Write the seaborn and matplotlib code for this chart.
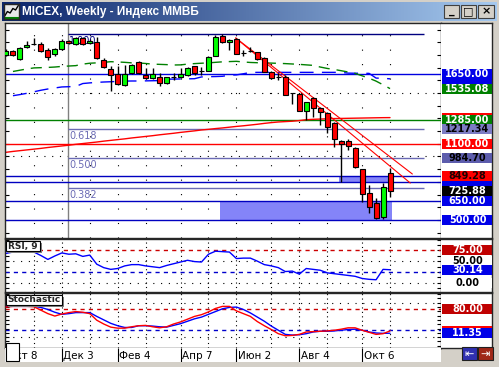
import numpy as np
import matplotlib
matplotlib.use("Agg")
import matplotlib.pyplot as plt
from matplotlib.patches import Rectangle
from matplotlib.colors import LinearSegmentedColormap
from matplotlib.ticker import MultipleLocator
import seaborn as sns

sns.set_style("white")
plt.rcParams["font.family"] = ["DejaVu Sans"]
plt.rcParams["axes.linewidth"] = 1.0

# --------------------------------------------------
# Data
# --------------------------------------------------

title = "MICEX, Weekly - Индекс ММВБ"

weeks = np.arange(56)

open_ = [1800, 1831, 1768, 1863, 1884, 1886, 1839, 1808, 1847, 1912,
         1884, 1931, 1897, 1905, 1760, 1687, 1648, 1563, 1660, 1742,
         1642, 1616, 1626, 1577, 1629, 1629, 1642, 1711, 1671, 1674,
         1794, 1947, 1900, 1926, 1815, 1834, 1821, 1774, 1668, 1626,
         1626, 1498, 1492, 1358, 1463, 1380, 1340, 1262, 1124, 1124,
         1065, 899, 710, 631, 521, 872]
close = [1831, 1800, 1855, 1879, 1884, 1831, 1784, 1847, 1910, 1892,
         1931, 1884, 1912, 1778, 1703, 1642, 1569, 1652, 1721, 1656,
         1616, 1648, 1577, 1624, 1629, 1648, 1700, 1660, 1671, 1786,
         1939, 1905, 1920, 1810, 1815, 1834, 1766, 1668, 1616, 1626,
         1485, 1498, 1358, 1427, 1380, 1348, 1235, 1135, 1098, 1085,
         920, 702, 600, 513, 762, 725.88]
high = [1847, 1839, 1863, 1910, 1936, 1902, 1855, 1855, 1926, 1918,
        1942, 1942, 1926, 1939, 1776, 1715, 1713, 1721, 1729, 1749,
        1697, 1700, 1658, 1630, 1658, 1700, 1705, 1717, 1705, 1792,
        1957, 1963, 1926, 1930, 1839, 1863, 1827, 1784, 1674, 1658,
        1642, 1504, 1500, 1433, 1469, 1390, 1347, 1272, 1130, 1135,
        1077, 905, 775, 671, 793, 907]
low = [1792, 1792, 1760, 1855, 1879, 1823, 1760, 1792, 1839, 1886,
       1879, 1879, 1886, 1772, 1697, 1516, 1563, 1555, 1654, 1650,
       1611, 1611, 1555, 1571, 1603, 1622, 1634, 1646, 1642, 1670,
       1792, 1894, 1839, 1804, 1792, 1827, 1760, 1662, 1611, 1603,
       1481, 1414, 1355, 1288, 1314, 1248, 1185, 1077, 801, 1051,
       913, 644, 555, 507, 505, 683]

ma_green = [np.nan, 1670, 1680, 1690, 1698, 1700, 1702, 1705, 1710, 1713,
            1716, 1728, 1735, 1738, 1742, 1747, 1745, 1742, 1738, 1737,
            1733, 1728, 1726, 1724, 1721, 1722, 1728, 1732, 1735, 1738,
            1742, 1746, 1748, 1750, 1745, 1741, 1739, 1737, 1736, 1734,
            1732, 1729, 1726, 1722, 1718, 1705, 1694, 1686, 1676, 1666,
            1655, 1636, 1617, 1594, 1565, 1535.08]
ma_blue = [np.nan, 1479, 1488, 1498, 1510, 1522, 1532, 1540, 1548, 1550,
           1552, 1575, 1580, 1584, 1587, 1589, 1592, 1594, 1595, 1595,
           1596, 1597, 1598, 1609, 1610, 1611, 1612, 1613, 1627, 1629,
           1630, 1632, 1641, 1643, 1652, 1662, 1663, 1663, 1663, 1663,
           1663, 1663, 1663, 1663, 1663, 1663, 1663, 1663, 1663, 1657,
           1656, 1656, 1655, 1618, 1616, 1611.97]
ma_red = [1033, 1040, 1046, 1052, 1058, 1064, 1071, 1077, 1083, 1089,
          1096, 1102, 1108, 1114, 1121, 1127, 1133, 1139, 1146, 1152,
          1158, 1164, 1171, 1177, 1183, 1190, 1196, 1202, 1209, 1214,
          1220, 1225, 1231, 1237, 1242, 1248, 1254, 1261, 1267, 1272,
          1275, 1278, 1283, 1290, 1293, 1295, 1297, 1299, 1300, 1301,
          1302, 1303, 1304, 1305, 1306, 1306.42]

rsi = [68, 71, 73, 72, 71, 63, 54, 62, 69, 66,
       67, 61, 64, 43, 35, 31, 33, 39, 42, 42,
       39, 37, 35, 40, 44, 48, 52, 49, 48, 66,
       73, 72, 71, 56, 57, 57, 50, 42, 39, 35,
       26, 27, 20, 33, 31, 29, 23, 21, 19, 17,
       15, 10, 8, 7, 31, 30.14]
stoch_k = [87, 89, 89, 89, 88, 78, 68, 61, 67, 71,
           74, 72, 68, 49, 38, 29, 26, 26, 30, 33,
           34, 30, 27, 30, 38, 44, 52, 60, 65, 73,
           83, 89, 89, 76, 68, 60, 45, 33, 22, 10,
           4, 5, 8, 15, 16, 17, 18, 20, 23, 27,
           27, 20, 14, 8, 10, 18]
stoch_d = [89, 89, 89, 89, 89, 86, 80, 72, 66, 68,
           71, 71, 71, 60, 50, 40, 33, 28, 28, 33,
           33, 32, 30, 29, 34, 39, 46, 53, 58, 66,
           74, 82, 86, 87, 80, 70, 58, 46, 32, 20,
           8, 6, 7, 10, 15, 17, 17, 18, 20, 22,
           23, 20, 15, 12, 11, 11.35]

date_idx = [0, 8, 16, 25, 33, 42, 51]
date_labels = ["Окт 8", "Дек 3", "Фев 4", "Апр 7", "Июн 2", "Авг 4", "Окт 6"]
month_idx = [4, 8, 12, 16, 20, 25, 29, 33, 38, 42, 46, 51, 55]

level_prices = [1650, 1285, 1100, 849.28, 797.51, 650, 500]
level_colors = ["#0000E0", "#008000", "#FF0000", "#0000C0", "#0000C0", "#0000C0", "#0000C0"]

fib_labels = ["1.000", "0.618", "0.500", "0.382"]
fib_prices = [1965, 1217.34, 984.70, 752.0]
fib_colors = ["#000080", "#6A6AB4", "#6A6AB4", "#6A6AB4"]
fib_start = 8.9
fib_end = 59.9

zone_x0 = [30.7, 47.7]
zone_x1 = [55.3, 55.3]
zone_lo = [500, 797.51]
zone_hi = [650, 849.28]

trend_x = [[32.9, 58.2], [32.9, 57.9]]
trend_y = [[1934, 862], [1934, 791]]

# price tags on the right scale (some sit under others and are mostly hidden)
main_tags = [1611.97, 1650.00, 1306.42, 1535.08, 1285.00, 1217.34, 1100.00,
             984.70, 797.51, 849.28, 725.88, 650.00, 500.00]
main_tag_fc = ["#0000E8", "#0000E8", "#FF0000", "#008000", "#008000", "#7C7CC4", "#FF0000",
               "#5C5CAC", "#0000E8", "#FF0000", "#000000", "#0000E8", "#0000E8"]
main_tag_tc = ["white", "white", "white", "white", "white", "black", "white",
               "black", "white", "#200000", "white", "white", "white"]
main_tag_shown = [False, True, False, True, True, True, True,
                  True, False, True, True, True, True]

rsi_tags = [75.00, 50.00, 30.14, 0.00]
rsi_tag_fc = ["#C00000", "white", "#0000E8", "white"]
rsi_tag_tc = ["white", "black", "white", "black"]
rsi_tag_shown = [True, True, True, True]

stoch_tags = [80.00, 18.00, 11.35]
stoch_tag_fc = ["#C00000", "#FF0000", "#0000E8"]
stoch_tag_tc = ["white", "white", "white"]
stoch_tag_shown = [True, False, True]

# --------------------------------------------------
# Layout helpers (pixel boxes)
# --------------------------------------------------

W, H = 499, 367
GRAY = "#D4D0C8"


def box(x0, y0, x1, y1):
    return [x0 / W, 1 - y1 / H, (x1 - x0) / W, (y1 - y0) / H]


def fig_rect(x0, y0, x1, y1, **kw):
    fig.add_artist(Rectangle((x0 / W, 1 - y1 / H), (x1 - x0) / W, (y1 - y0) / H,
                             transform=fig.transFigure, **kw))


def tag_panel(rect, ylim, px_h):
    a = fig.add_axes(rect)
    a.set_xlim(0, 1)
    a.set_ylim(ylim)
    a.set_xticks([])
    a.set_yticks([])
    a.set_facecolor("white")
    a.spines["left"].set_visible(False)
    return a, 10 * (ylim[1] - ylim[0]) / px_h


def draw_tags(a, h, vals, fcs, tcs, shown):
    for k, (v, fc, tc, s) in enumerate(zip(vals, fcs, tcs, shown)):
        a.add_patch(Rectangle((0.02, v - h / 2), 0.98, h, fc=fc, ec="none", zorder=2 + 2 * k))
        if s:
            a.text(0.52, v, "%.2f" % v, ha="center", va="center", color=tc,
                   fontsize=7, fontweight="bold", zorder=3 + 2 * k, clip_on=True)


fig = plt.figure(figsize=(W / 100, H / 100), dpi=100)
fig.patch.set_facecolor(GRAY)

# --------------------------------------------------
# Title bar
# --------------------------------------------------

tb = fig.add_axes(box(2, 2, 497, 21))
tb.imshow(np.linspace(0, 1, 256).reshape(1, -1), aspect="auto", extent=[0, 1, 0, 1],
          cmap=LinearSegmentedColormap.from_list("tb", ["#0A246A", "#A6CAF0"]))
tb.set_axis_off()

icon = fig.add_axes(box(4, 4, 19, 19))
icon.set_facecolor("#E8E8E8")
icon_trace = [2, 5, 4, 7, 6, 9]
icon.plot(icon_trace, color="black", lw=1)
icon.axhline(1, color="#008000", lw=1.5)
icon.set_xticks([])
icon.set_yticks([])
icon.set_ylim(0, 10)

fig.text(22 / W, 1 - 12 / H, title, color="white", fontsize=8.5, fontweight="bold",
         family=["Liberation Sans", "DejaVu Sans"], va="center", ha="left")

for (x0, x1), glyph in zip([(444, 459), (461, 476), (478, 494)], ["_", "□", "×"]):
    fig_rect(x0, 5, x1, 18, fc=GRAY, ec="#404040", lw=0.8, zorder=5)
    fig.text((x0 + x1) / 2 / W, 1 - 11.5 / H, glyph, ha="center", va="center",
             fontsize=8, fontweight="bold", color="black", zorder=6)

# --------------------------------------------------
# Main price panel
# --------------------------------------------------

ax = fig.add_axes(box(5, 23, 441, 238))
ax.set_facecolor("white")
XLIM = (-0.14, 62.3)
MAIN_Y = (357.7, 2052)

for m in month_idx:
    ax.axvline(m, color="black", lw=0.8, ls=(0, (1, 12)), zorder=0.5)
for g in [1000, 1500]:
    ax.axhline(g, color="black", lw=0.8, ls=(0, (1, 6)), zorder=0.5)

for x0, x1, lo, hi in zip(zone_x0, zone_x1, zone_lo, zone_hi):
    ax.add_patch(Rectangle((x0, lo), x1 - x0, hi - lo, fc="#8484F8", ec="none", zorder=1))

ax.axvline(fib_start, color="#808080", lw=1, zorder=1.5)
for lbl, p, col in zip(fib_labels, fib_prices, fib_colors):
    ax.hlines(p, fib_start, fib_end, color=col, lw=1, zorder=1.5)
    ax.annotate(lbl, xy=(fib_start, p), xytext=(1, -2), textcoords="offset pixels",
                ha="left", va="top", fontsize=7, color=col, zorder=2)

for p, col in zip(level_prices, level_colors):
    ax.axhline(p, color=col, lw=1, zorder=1.6)

sns.lineplot(x=weeks, y=ma_red, ax=ax, color="#FF0000", lw=1, zorder=2)
sns.lineplot(x=weeks, y=ma_blue, ax=ax, color="#0000FF", lw=1, linestyle=(0, (10, 6)), zorder=2)
sns.lineplot(x=weeks, y=ma_green, ax=ax, color="#008000", lw=1, linestyle=(0, (8, 5)), zorder=2)

for tx, ty in zip(trend_x, trend_y):
    ax.plot(tx, ty, color="#FF0000", lw=0.8, zorder=3)

o = np.array(open_)
c = np.array(close)
colors = np.where(c > o, "#00FF00", np.where(c < o, "#FF0000", "black"))
ax.vlines(weeks, low, high, color="black", lw=1, zorder=4)
ax.bar(weeks, np.abs(c - o), bottom=np.minimum(o, c), width=0.72, color=colors,
       edgecolor="black", linewidth=0.8, zorder=5)

ax.set_xlim(XLIM)
ax.set_ylim(MAIN_Y)
ax.set_xticks([])
ax.yaxis.set_major_locator(MultipleLocator(100))
ax.tick_params(axis="y", direction="in", length=3, left=True, right=True,
               labelleft=False, labelright=False, color="black")
ax.set_xlabel("")
ax.set_ylabel("")

lab, h = tag_panel(box(441, 23, 492, 238), MAIN_Y, 215)
draw_tags(lab, h, main_tags, main_tag_fc, main_tag_tc, main_tag_shown)

# --------------------------------------------------
# RSI panel
# --------------------------------------------------

RSI_Y = (-21.3, 101.2)
rax = fig.add_axes(box(5, 239, 441, 292))
rax.set_facecolor("white")
for m in month_idx:
    rax.axvline(m, color="black", lw=0.8, ls=(0, (1, 3)), zorder=0.5)
for g in [50, 0]:
    rax.axhline(g, color="black", lw=0.8, ls=(0, (1, 6)), zorder=0.5)
rax.axhline(75, color="#CC0000", lw=1, ls=(0, (3, 3)), zorder=1)
rax.axhline(25, color="#0000CC", lw=1, ls=(0, (3, 3)), zorder=1)
sns.lineplot(x=weeks, y=rsi, ax=rax, color="#0000FF", lw=1, zorder=2)
rax.set_xlim(XLIM)
rax.set_ylim(RSI_Y)
rax.set_xticks([])
rax.yaxis.set_major_locator(MultipleLocator(12.5))
rax.tick_params(axis="y", direction="in", length=3, left=True, right=True,
                labelleft=False, labelright=False, color="black")
rax.set_xlabel("")
rax.set_ylabel("")

rlab, h = tag_panel(box(441, 239, 492, 292), RSI_Y, 53)
draw_tags(rlab, h, rsi_tags, rsi_tag_fc, rsi_tag_tc, rsi_tag_shown)

# --------------------------------------------------
# Stochastic panel
# --------------------------------------------------

STO_Y = (-31.4, 127.7)
sax = fig.add_axes(box(5, 293, 441, 348))
sax.set_facecolor("white")
for m in month_idx:
    sax.axvline(m, color="black", lw=0.8, ls=(0, (1, 3)), zorder=0.5)
for g in [100, 0]:
    sax.axhline(g, color="black", lw=0.8, ls=(0, (1, 6)), zorder=0.5)
sax.axhline(80, color="#CC0000", lw=1, ls=(0, (3, 3)), zorder=1)
sax.axhline(20, color="#0000CC", lw=1, ls=(0, (3, 3)), zorder=1)
sns.lineplot(x=weeks, y=stoch_d, ax=sax, color="#0000FF", lw=1, zorder=2)
sns.lineplot(x=weeks, y=stoch_k, ax=sax, color="#FF0000", lw=1, zorder=3)
sax.set_xlim(XLIM)
sax.set_ylim(STO_Y)
sax.set_xticks([])
sax.yaxis.set_major_locator(MultipleLocator(12.5))
sax.tick_params(axis="y", direction="in", length=3, left=True, right=True,
                labelleft=False, labelright=False, color="black")
sax.set_xlabel("")
sax.set_ylabel("")

slab, h = tag_panel(box(441, 293, 492, 348), STO_Y, 55)
draw_tags(slab, h, stoch_tags, stoch_tag_fc, stoch_tag_tc, stoch_tag_shown)

# panel captions with a shadow
for (x0, y0, x1, y1), txt in zip([(6, 241, 40, 251), (6, 295, 62, 305)], ["RSI, 9", "Stochastic"]):
    fig_rect(x0 + 2, y0 + 2, x1 + 2, y1 + 2, fc="#808080", ec="none", zorder=5)
    fig_rect(x0, y0, x1, y1, fc="white", ec="black", lw=0.8, zorder=6)
    fig.text((x0 + 1.5) / W, 1 - (y0 + y1) / 2 / H, txt, fontsize=6.5, fontweight="bold",
             ha="left", va="center", zorder=7)

# --------------------------------------------------
# Date axis
# --------------------------------------------------

dax = fig.add_axes(box(5, 348, 441, 362))
dax.set_facecolor("white")
dax.set_xlim(XLIM)
dax.set_ylim(0, 1)
dax.vlines(date_idx, 0, 1, color="black", lw=0.8)
for i, lbl in zip(date_idx, date_labels):
    dax.annotate(lbl, xy=(i, 0.45), xytext=(1.5, 0), textcoords="offset pixels",
                 ha="left", va="center", fontsize=7.5, color="black")
dax.set_xticks([])
dax.set_yticks([])
for s in dax.spines.values():
    s.set_visible(False)

fig_rect(6, 343, 19, 361, fc="white", ec="black", lw=0.8, zorder=8)

# navigation buttons
for (x0, x1), fc, glyph in zip([(462, 477), (478, 493)], ["#3030B0", "#A02818"], ["⇤", "⇥"]):
    fig_rect(x0, 347, x1, 360, fc=fc, ec="#202020", lw=0.8, zorder=5)
    fig.text((x0 + x1) / 2 / W, 1 - 353.5 / H, glyph, ha="center", va="center",
             fontsize=8, color="white", zorder=6)

fig.savefig("out.png", dpi=100, facecolor=fig.get_facecolor())
print("Chart saved")
